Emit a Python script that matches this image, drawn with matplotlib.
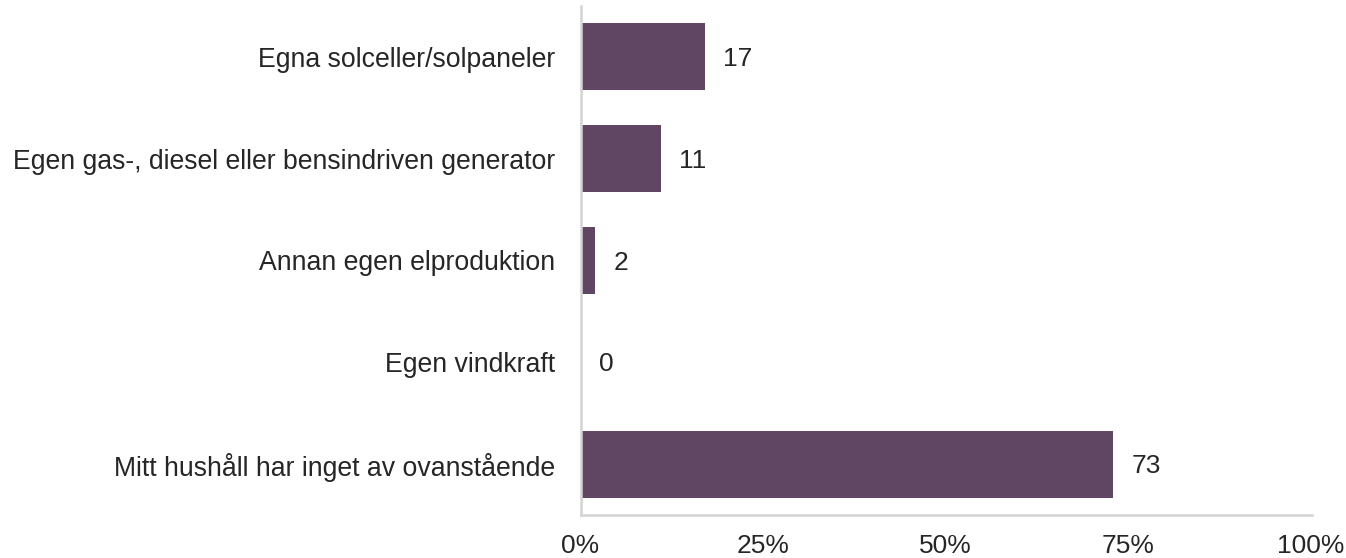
import matplotlib
matplotlib.use("Agg")
from matplotlib import pyplot as plt
from matplotlib.ticker import FuncFormatter

plt.rcParams['font.family'] = ['Liberation Sans', 'DejaVu Sans']

categories = [
    "Egna solceller/solpaneler",
    "Egen gas-, diesel eller bensindriven generator",
    "Annan egen elproduktion",
    "Egen vindkraft",
    "Mitt hushåll har inget av ovanstående",
]
values = [17, 11, 2, 0, 73]
xticks = [0, 25, 50, 75, 100]

bar_color = "#614663"
text_color = "#262626"
spine_color = "#d4d4d4"

fig = plt.figure(figsize=(13.46, 5.58), dpi=100)
ax = fig.add_axes([580.5 / 1346, 1 - 515 / 558, (1312 - 580.5) / 1346, (515 - 6) / 558])

ypos = list(range(len(categories)))
ax.barh(ypos, values, height=0.66, color=bar_color)

for y, v in zip(ypos, values):
    ax.text(v + 2.5, y + 0.02, str(v), va="center", ha="left", fontsize=19, color=text_color)

ax.set_yticks(ypos)
ax.set_yticklabels(categories, fontsize=19.2, color=text_color)
ax.set_ylim(4.5, -0.5)
ax.set_xlim(0, 100.2)
ax.set_xticks(xticks)
ax.xaxis.set_major_formatter(FuncFormatter(lambda v, p: "%d%%" % v))
ax.tick_params(axis="x", labelsize=19, colors=text_color, length=0, pad=14)
ax.tick_params(axis="y", length=0, pad=18)

for s in ["top", "right"]:
    ax.spines[s].set_visible(False)
for s in ["left", "bottom"]:
    ax.spines[s].set_color(spine_color)
    ax.spines[s].set_linewidth(1.8)

fig.savefig("out.png", dpi=100)
